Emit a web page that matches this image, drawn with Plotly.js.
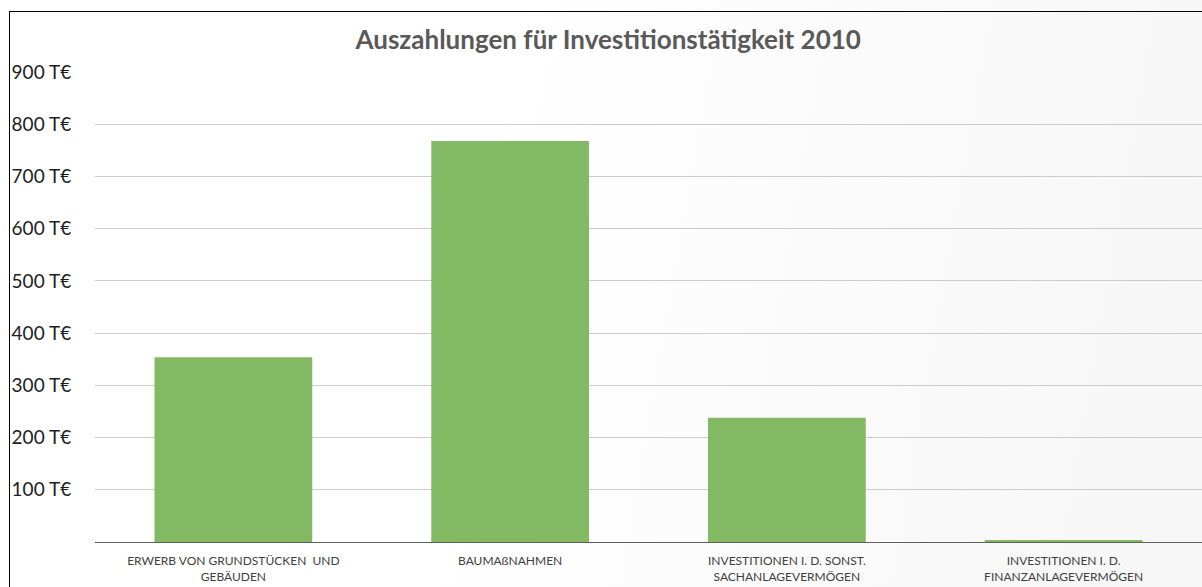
<!DOCTYPE html>
<html>
<head>
<meta charset="utf-8">
<script src="https://cdn.plot.ly/plotly-3.0.1.min.js"></script>
<style>
  html, body { margin: 0; padding: 0; }
  body {
    width: 1202px; height: 587px; overflow: hidden; position: relative;
    background: linear-gradient(100deg, #ffffff 40%, #f6f6f6 100%);
  }
  #grafico { width: 1202px; height: 587px; }
  #rahmen {
    position: absolute; left: 9px; top: 11px; right: 0; bottom: 0;
    border-left: 1px solid #000; border-top: 1px solid #000;
    pointer-events: none;
  }
</style>
</head>
<body>
<div id="grafico"></div>
<div id="rahmen"></div>
<script>
// Auszahlungen für Investitionstätigkeit 2010 (in T€)
var kategorien = [
    "ERWERB VON GRUNDSTÜCKEN  UND<br>GEBÄUDEN",
    "BAUMAßNAHMEN",
    "INVESTITIONEN I. D. SONST.<br>SACHANLAGEVERMÖGEN",
    "INVESTITIONEN I. D.<br>FINANZANLAGEVERMÖGEN"
];

var auszahlungen = [354, 768, 238, 3];

var yTicks = [100, 200, 300, 400, 500, 600, 700, 800, 900];
var yTickLabels = ["100 T€", "200 T€", "300 T€", "400 T€", "500 T€", "600 T€", "700 T€", "800 T€", "900 T€"];

var dati = [
    {
        type: 'bar',
        x: kategorien,
        y: auszahlungen,
        marker: { color: '#84b963' },
        hoverinfo: 'x+y'
    }
];

var layout = {
    width: 1202,
    height: 587,
    margin: { l: 95, r: 0, t: 72, b: 45 },
    paper_bgcolor: 'rgba(0,0,0,0)',
    plot_bgcolor: 'rgba(0,0,0,0)',
    bargap: 0.43,
    showlegend: false,
    font: { family: 'Lato, "Open Sans", sans-serif' },
    title: {
        text: '<b>Auszahlungen für Investitionstätigkeit 2010</b>',
        font: { size: 26, color: '#595959', family: 'Lato, "Open Sans", sans-serif' },
        x: 0.506,
        xanchor: 'center',
        y: 1 - 40 / 587,
        yanchor: 'middle'
    },
    xaxis: {
        showgrid: false,
        showline: true,
        linecolor: '#5f5f5f',
        linewidth: 1,
        ticks: 'outside',
        ticklen: 8,
        tickcolor: 'rgba(0,0,0,0)',
        tickfont: { size: 12, color: '#404040' }
    },
    yaxis: {
        range: [0, 900],
        tickvals: yTicks,
        ticktext: yTickLabels,
        showgrid: true,
        gridcolor: '#cccccc',
        zeroline: false,
        showline: false,
        ticks: 'outside',
        ticklen: 19,
        tickcolor: 'rgba(0,0,0,0)',
        tickfont: { size: 19, color: '#1e1e1e' }
    }
};

Plotly.newPlot('grafico', dati, layout, { displayModeBar: false });
</script>
</body>
</html>
